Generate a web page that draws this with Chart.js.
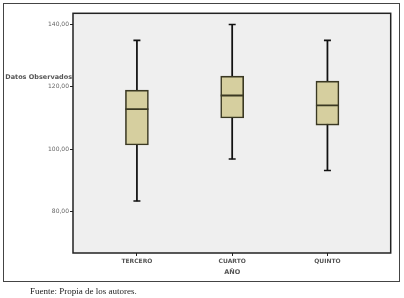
<!DOCTYPE html>
<html><head><meta charset="utf-8">
<script src="https://cdn.jsdelivr.net/npm/chart.js@4"></script>
<style>html,body{margin:0;padding:0;background:#fff;}#wrap{width:404px;height:298px;position:relative;}</style>
</head><body><div id="wrap"><canvas id="c" width="404" height="298"></canvas></div>
<script>
const categories = ["TERCERO", "CUARTO", "QUINTO"];
const whiskerLow  = [83.3, 96.8, 93.1];
const quartile1   = [101.3, 110.0, 107.7];
const medians     = [112.8, 117.2, 114.0];
const quartile3   = [118.9, 123.4, 121.8];
const whiskerHigh = [134.9, 140.0, 134.9];
const yTicks = [80, 100, 120, 140];
const yTitle = "Datos Observados";
const xTitle = "AÑO";
const caption = "Fuente: Propia de los autores.";

const idx = categories.map((_, i) => i);
const boxFill = "#d6cf9f", boxLine = "#3a3822";

const decor = {
  id: "decor",
  beforeDraw(chart) {
    const {ctx, chartArea: a} = chart;
    ctx.save();
    ctx.fillStyle = "#efefef";
    ctx.fillRect(a.left, a.top, a.right - a.left, a.bottom - a.top);
    ctx.restore();
  },
  afterDraw(chart) {
    const {ctx, chartArea: a} = chart;
    ctx.save();
    ctx.strokeStyle = "#222";
    ctx.lineWidth = 1.5;
    ctx.strokeRect(a.left, a.top, a.right - a.left, a.bottom - a.top);
    ctx.lineWidth = 1;
    ctx.strokeStyle = "#444";
    ctx.strokeRect(3.5, 3.5, 396, 278);
    ctx.fillStyle = "#555";
    ctx.font = "bold 6.5px 'DejaVu Sans', sans-serif";
    ctx.textAlign = "right";
    ctx.textBaseline = "middle";
    ctx.fillText(yTitle, a.left - 1, 77);
    ctx.textAlign = "center";
    ctx.fillText(xTitle, (chart.scales.x.getPixelForValue(1)), 272);
    ctx.fillStyle = "#222";
    ctx.font = "9px 'Liberation Serif', 'DejaVu Serif', serif";
    ctx.textAlign = "left";
    ctx.fillText(caption, 30, 292);
    ctx.restore();
  }
};

new Chart(document.getElementById("c"), {
  data: {
    datasets: [
      { type: "scatter", order: 0, data: idx.map(i => ({x: i, y: medians[i]})),
        pointStyle: "line", radius: 11.5, borderWidth: 1.8, borderColor: boxLine, hoverRadius: 11.5 },
      { type: "scatter", order: 0, data: idx.flatMap(i => [{x: i, y: whiskerLow[i]}, {x: i, y: whiskerHigh[i]}]),
        pointStyle: "line", radius: 3.5, borderWidth: 1.6, borderColor: "#111", hoverRadius: 3.5 },
      { type: "bar", order: 1, grouped: false, data: idx.map(i => ({x: i, y: [quartile1[i], quartile3[i]]})),
        barThickness: 23, backgroundColor: boxFill, borderColor: boxLine, borderWidth: 1.6, borderSkipped: false },
      { type: "bar", order: 2, grouped: false, data: idx.map(i => ({x: i, y: [whiskerLow[i], whiskerHigh[i]]})),
        barThickness: 1.1, backgroundColor: "#111", borderWidth: 0 }
    ]
  },
  options: {
    responsive: false, animation: false,
    layout: { padding: { top: 12, right: 13, left: 0, bottom: 0 } },
    plugins: { legend: { display: false }, tooltip: { enabled: false } },
    scales: {
      x: {
        type: "linear", min: -0.671, max: 2.664, offset: false,
        afterFit(s) { s.height = 45; },
        afterBuildTicks(s) { s.ticks = idx.map(v => ({value: v})); },
        grid: { drawOnChartArea: false, tickLength: 3, color: "#222", offset: false },
        border: { display: false },
        ticks: { padding: 2, color: "#555", font: { size: 6, weight: "bold", family: "'DejaVu Sans', sans-serif" },
          callback: v => categories[v] ?? "", maxRotation: 0 }
      },
      y: {
        type: "linear", min: 66.6, max: 143.6,
        afterFit(s) { s.width = 73; },
        afterBuildTicks(s) { s.ticks = yTicks.map(v => ({value: v})); },
        grid: { drawOnChartArea: false, tickLength: 3, color: "#222" },
        border: { display: false },
        ticks: { padding: 1, color: "#666", font: { size: 6, family: "'DejaVu Sans', sans-serif" },
          callback: v => v.toFixed(2).replace(".", ",") }
      }
    }
  },
  plugins: [decor]
});
</script></body></html>
